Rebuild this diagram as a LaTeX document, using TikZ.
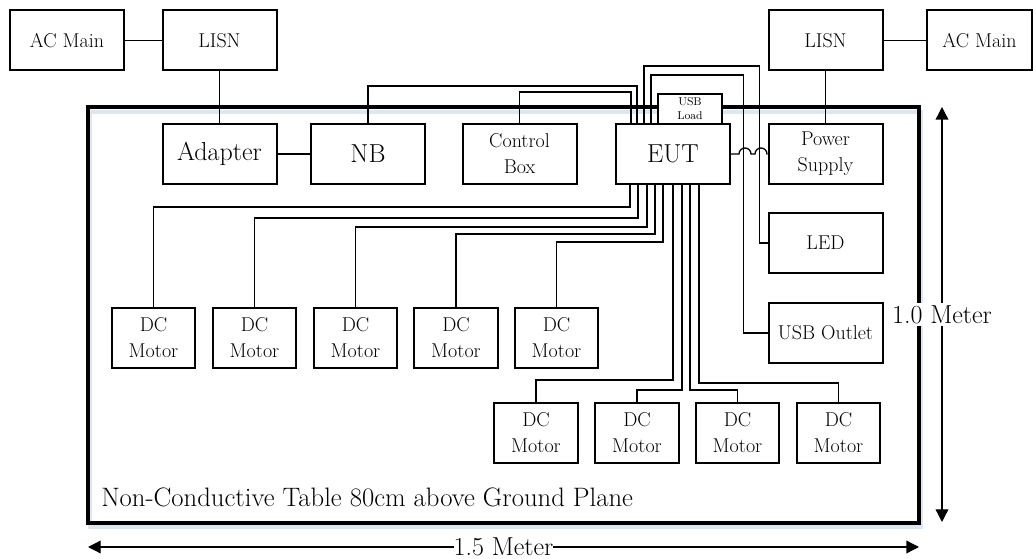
\documentclass[tikz,border=0pt]{standalone}
\usepackage{tikz}
\usetikzlibrary{calc,arrows.meta,positioning}
\definecolor{tableshadow}{RGB}{220,231,243}
\tikzset{
  eqbox/.style={rectangle, draw=black, fill=white, line width=1.5pt,
                minimum width=85.5pt, minimum height=45pt, inner sep=1pt,
                align=center, font=\fontsize{15}{19.5}\selectfont},
  bigbox/.style={eqbox, font=\fontsize{19.5}{22}\selectfont},
  motorbox/.style={eqbox, minimum width=62.5pt},
  loadbox/.style={eqbox, minimum width=48pt, minimum height=22.5pt,
                  inner sep=0pt, font=\fontsize{8.5}{10.5}\selectfont},
  wire/.style={line width=1pt, black},
  tableedge/.style={rectangle, draw=black, line width=3pt,
                    minimum width=623.25pt, minimum height=312pt},
  tablelabel/.style={anchor=base west, inner sep=0pt, font=\fontsize{20}{22}\selectfont},
  dimarrow/.style={{Triangle[length=9.5pt,width=9.5pt]}-{Triangle[length=9.5pt,width=9.5pt]},
                   line width=1pt},
  dimlabel/.style={fill=white, inner sep=1.5pt, font=\fontsize{19.5}{22}\selectfont},
}

\begin{document}
\begin{tikzpicture}[x=0.75pt, y=-0.75pt]
  \useasboundingbox (0,0) rectangle (1033,559);
  % table
  \draw[tableshadow, line width=3pt] (90,112) rectangle (921,527);
  \node[tableedge] (table) at (503.5,315) {};
  \node[tablelabel] (tabletext) at (101,507) {Non-Conductive Table 80cm above Ground Plane};
  % mains side
  \node[eqbox] (acl)   at (67,40.5)    {AC Main};
  \node[eqbox] (lisnl) at (219.5,40.5) {LISN};
  \node[eqbox] (lisnr) at (825.5,40.5) {LISN};
  \node[eqbox, minimum width=78.5pt] (acr) at (979.5,40.5) {AC Main};
  % equipment on the table
  \node[bigbox] (adapter) at (219.5,154) {Adapter};
  \node[bigbox] (nb)      at (368,154)   {NB};
  \node[eqbox]  (ctrl)    at (519.5,154) {Control\\Box};
  \node[bigbox] (eut)     at (673,154)   {EUT};
  \node[loadbox] (usbload) at (690,109)  {USB\\Load};
  \node[eqbox]  (psu)     at (825.5,154) {Power\\Supply};
  \node[eqbox]  (led)     at (825.5,243) {LED};
  \node[eqbox]  (usbout)  at (825.5,333) {USB Outlet};
  % motors
  \node[motorbox] (m1) at (153.5,338) {DC\\Motor};
  \node[motorbox] (m2) at (254.5,338) {DC\\Motor};
  \node[motorbox] (m3) at (355.5,338) {DC\\Motor};
  \node[motorbox] (m4) at (456,338)   {DC\\Motor};
  \node[motorbox] (m5) at (556.5,338) {DC\\Motor};
  \node[motorbox] (m6) at (536,433)   {DC\\Motor};
  \node[motorbox] (m7) at (637,433)   {DC\\Motor};
  \node[motorbox] (m8) at (737.5,433) {DC\\Motor};
  \node[motorbox] (m9) at (838.5,433) {DC\\Motor};
  % power cords
  \draw[wire] (acl) -- (lisnl);
  \draw[wire] (lisnl) -- (adapter);
  \draw[wire] (adapter) -- (nb);
  \draw[wire] (lisnr) -- (acr);
  \draw[wire] (lisnr) -- (psu);
  \draw[wire] (eut.east) -- ++(8,0) arc[start angle=180, end angle=360, radius=6]
              -- ++(4,0) arc[start angle=180, end angle=360, radius=6] -- (psu.west);
  % cables leaving the EUT top
  \draw[wire] ($(eut.north)+(-42,0)$) -- ++(0,-31) -| (ctrl.north);
  \draw[wire] ($(eut.north)+(-36,0)$) -- ++(0,-37) -| (nb.north);
  \draw[wire] ($(eut.north)+(-29,0)$) -- ++(0,-57) -| ($(led.west)+(-8,0)$) -- (led.west);
  \draw[wire] ($(eut.north)+(-22,0)$) -- ++(0,-48) -| ($(usbout.west)+(-24,0)$) -- (usbout.west);
  % cables to the motors
  \draw[wire] ($(eut.south)+(-43,0)$) -- ++(0,22)  -| (m1.north);
  \draw[wire] ($(eut.south)+(-35,0)$) -- ++(0,33)  -| (m2.north);
  \draw[wire] ($(eut.south)+(-26,0)$) -- ++(0,42)  -| (m3.north);
  \draw[wire] ($(eut.south)+(-18,0)$) -- ++(0,49)  -| (m4.north);
  \draw[wire] ($(eut.south)+(-10,0)$) -- ++(0,57)  -| (m5.north);
  \draw[wire] ($(eut.south)+(0,0)$)   -- ++(0,195) -| (m6.north);
  \draw[wire] ($(eut.south)+(9,0)$)   -- ++(0,205) -| (m7.north);
  \draw[wire] ($(eut.south)+(17,0)$)  -- ++(0,205) -| (m8.north);
  \draw[wire] ($(eut.south)+(26,0)$)  -- ++(0,198) -| (m9.north);
  % dimensions
  \coordinate (vtop) at (942,107);
  \coordinate (vbot) at (942,522);
  \draw[dimarrow] (vtop) -- (vbot) node[dimlabel, midway] (vlabel) {1.0 Meter};
  \coordinate (hleft)  at (88,547);
  \coordinate (hright) at (919,547);
  \draw[dimarrow] (hleft) -- (hright) node[dimlabel, midway, inner xsep=0pt] (hlabel) {1.5 Meter};
\end{tikzpicture}
\end{document}
